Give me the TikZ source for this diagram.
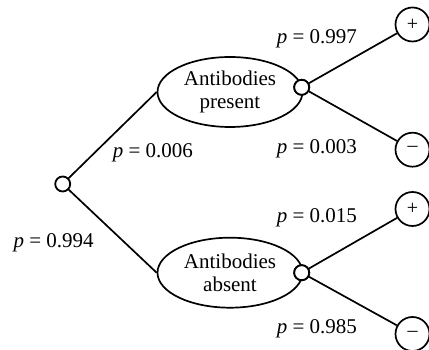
\documentclass[tikz,border=0pt]{standalone}
\usepackage{fontspec}
\setmainfont{Liberation Serif}
\usetikzlibrary{shapes.geometric}
\tikzset{
  line/.style={line width=1.7pt},
  event/.style={ellipse,draw,line width=1.7pt,minimum width=145pt,minimum height=70pt,inner sep=0pt,align=center,font=\fontsize{21}{23.5}\selectfont},
  chance/.style={circle,draw,fill=white,line width=1.8pt,minimum size=15pt,inner sep=0pt},
  leaf/.style={circle,draw,line width=1.7pt,minimum size=34pt,inner sep=0pt,font=\fontsize{20}{22}\selectfont},
  prob/.style={anchor=base west,inner sep=0pt,font=\fontsize{21}{24}\selectfont}
}
\newcommand{\pv}[1]{\textit{p}\hspace{0.25em}=\hspace{0.25em}#1}
\begin{document}
\begin{tikzpicture}[x=1pt,y=1pt]
\useasboundingbox (0,0) rectangle (429,350);
\node[chance] (root) at (62.7,166) {};
\node[event] (pres) at (230,258) {Antibodies\\present};
\node[event] (abs) at (230,77.3) {Antibodies\\absent};
\node[chance] (cp) at (301.7,262.7) {};
\node[chance] (ca) at (301.7,77.3) {};
\node[leaf] (l1) at (412.5,325.5) {+};
\node[leaf] (l2) at (412.5,200.3) {\raisebox{0.1ex}{–}};
\node[leaf] (l3) at (412.5,141) {+};
\node[leaf] (l4) at (412.5,16) {\raisebox{0.1ex}{–}};
\draw[line] (root) -- (pres.west);
\draw[line] (root) -- (abs.west);
\draw[line] (cp) -- (l1);
\draw[line] (cp) -- (l2);
\draw[line] (ca) -- (l3);
\draw[line] (ca) -- (l4);
\node[chance] at (cp) {};
\node[chance] at (ca) {};
\node[prob] (t1) at (276.7,306) {\pv{0.997}};
\node[prob] (t2) at (112.7,192.7) {\pv{0.006}};
\node[prob] (t3) at (276.7,196) {\pv{0.003}};
\node[prob] (t4) at (276.7,127.3) {\pv{0.015}};
\node[prob] (t5) at (13.3,102.7) {\pv{0.994}};
\node[prob] (t6) at (276.7,16.7) {\pv{0.985}};
\end{tikzpicture}
\end{document}
